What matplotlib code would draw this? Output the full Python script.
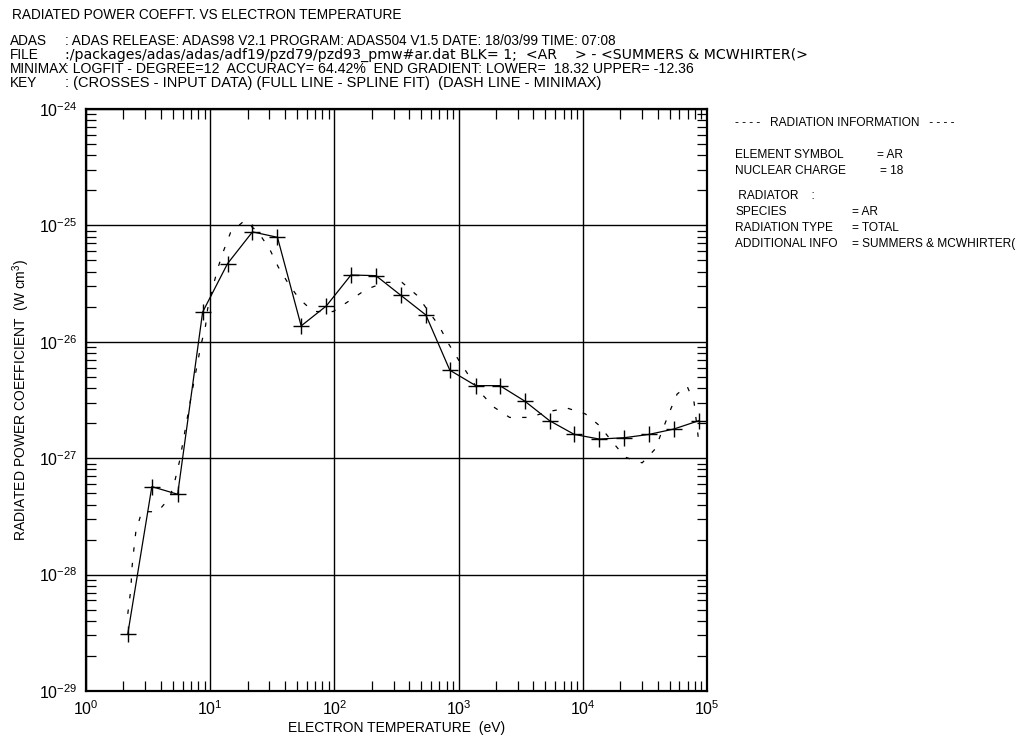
import matplotlib
matplotlib.use('Agg')
import matplotlib.pyplot as plt
from matplotlib.ticker import LogLocator, NullFormatter

plt.rcParams['font.family'] = ['Liberation Sans', 'DejaVu Sans']
plt.rcParams['mathtext.default'] = 'regular'

# input data (crosses / spline fit)
te_data = [2.17, 3.39, 5.47, 8.69, 13.8, 21.9, 34.8, 54.0, 86.0, 136, 216, 344,
           545, 850, 1375, 2150, 3400, 5400, 8550, 13600, 21600, 34000, 54000, 86000]
prb_data = [3.1e-29, 5.7e-28, 4.9e-28, 1.8e-26, 4.7e-26, 8.8e-26, 7.9e-26, 1.37e-26,
            2.03e-26, 3.75e-26, 3.7e-26, 2.5e-26, 1.7e-26, 5.7e-27, 4.2e-27, 4.2e-27,
            3.1e-27, 2.1e-27, 1.6e-27, 1.46e-27, 1.5e-27, 1.6e-27, 1.78e-27, 2.1e-27]

# minimax fit (dash line)
te_fit = [2.17, 2.30, 2.34, 2.43, 2.52, 2.81, 3.78, 4.72, 5.18, 5.68, 6.97, 8.38, 9.18,
          9.53, 10.4, 11.5, 12.8, 14.6, 18.9, 24.4, 30.0, 35.4, 42.6, 52.1, 67.6, 97.7,
          131, 180, 256, 350, 462, 566, 693, 834, 1005, 1208, 1479, 1919, 2576, 3724,
          5200, 7516, 10500, 13580, 17300, 21980, 30060, 38280, 49550, 57410, 69020,
          78700, 86300]
prb_fit = [4.6e-29, 7.6e-29, 1.12e-28, 1.66e-28, 2.34e-28, 3.47e-28, 3.47e-28, 4.57e-28,
           6.31e-28, 9.55e-28, 3.24e-27, 9.12e-27, 1.38e-26, 1.91e-26, 2.82e-26, 4.27e-26,
           6.03e-26, 8.71e-26, 1.10e-25, 8.71e-26, 6.31e-26, 4.37e-26, 3.16e-26, 2.34e-26,
           1.82e-26, 1.82e-26, 2.24e-26, 2.82e-26, 3.24e-26, 3.24e-26, 2.51e-26, 1.86e-26,
           1.38e-26, 9.55e-27, 6.92e-27, 5.13e-27, 3.72e-27, 2.75e-27, 2.24e-27, 2.24e-27,
           2.51e-27, 2.69e-27, 2.40e-27, 1.91e-27, 1.38e-27, 1.02e-27, 9.12e-28, 1.20e-27,
           2.45e-27, 3.55e-27, 4.17e-27, 3.02e-27, 1.32e-27]

header_keys = ['ADAS', 'FILE', 'MINIMAX', 'KEY']
header_vals = [
    ': ADAS RELEASE: ADAS98 V2.1 PROGRAM: ADAS504 V1.5 DATE: 18/03/99 TIME: 07:08',
    ':/packages/adas/adas/adf19/pzd79/pzd93_pmw#ar.dat BLK= 1;  <AR    > - <SUMMERS & MCWHIRTER(>',
    ': LOGFIT - DEGREE=12  ACCURACY= 64.42%  END GRADIENT: LOWER=  18.32 UPPER= -12.36',
    ': (CROSSES - INPUT DATA) (FULL LINE - SPLINE FIT)  (DASH LINE - MINIMAX)',
]
# per-line font tweaks so the line lengths follow the original plotter font
header_fonts = ['Liberation Sans', 'DejaVu Sans', 'Liberation Sans', 'Liberation Sans']
header_sizes = [9.8, 10.2, 10.2, 10.5]

info_keys = ['ELEMENT SYMBOL', 'NUCLEAR CHARGE', ' RADIATOR    :', 'SPECIES',
             'RADIATION TYPE', 'ADDITIONAL INFO']
info_vals = ['= AR', '= 18', '', '= AR', '= TOTAL', '= SUMMERS & MCWHIRTER(']

W, H = 1028, 736
fig = plt.figure(figsize=(W / 100, H / 100), dpi=100)
ax = fig.add_axes([86 / W, 1 - 691 / H, (707 - 86) / W, (691 - 109) / H])

ax.plot(te_fit, prb_fit, color='black', lw=0.9, dashes=(3.5, 9))
ax.plot(te_data, prb_data, color='black', lw=0.9, marker='+', ms=11, mew=1.0)

ax.set_xscale('log')
ax.set_yscale('log')
ax.set_xlim(1, 1e5)
ax.set_ylim(1e-29, 1e-24)
ax.grid(True, which='major', color='black', lw=1.0)
for s in ax.spines.values():
    s.set_linewidth(1.6)

ax.xaxis.set_major_locator(LogLocator(base=10, numticks=10))
ax.yaxis.set_major_locator(LogLocator(base=10, numticks=10))
ax.xaxis.set_minor_locator(LogLocator(base=10, subs=range(2, 10), numticks=20))
ax.yaxis.set_minor_locator(LogLocator(base=10, subs=range(2, 10), numticks=20))
ax.xaxis.set_minor_formatter(NullFormatter())
ax.yaxis.set_minor_formatter(NullFormatter())
ax.tick_params(which='both', direction='in', top=True, right=True, labelsize=11.5)
ax.tick_params(which='major', length=0, pad=6)
ax.tick_params(which='minor', length=7, width=0.9)

ax.set_xlabel('ELECTRON TEMPERATURE  (eV)', fontsize=10, labelpad=2)
ax.set_ylabel('RADIATED POWER COEFFICIENT  (W cm$^3$)', fontsize=10, labelpad=5)

fig.text(12 / W, 1 - 15 / H, 'RADIATED POWER COEFFT. VS ELECTRON TEMPERATURE',
         fontsize=9.8, va='center')
for i, (k, v) in enumerate(zip(header_keys, header_vals)):
    y = 1 - (41 + 14 * i) / H
    fig.text(10 / W, y, k, fontsize=9.8, va='center')
    fig.text(65 / W, y, v, fontsize=header_sizes[i], family=header_fonts[i], va='center')

fig.text(735 / W, 1 - 123 / H, '- - - -   RADIATION INFORMATION   - - - -',
         fontsize=8.6, va='center')
info_y = [155, 171, 196, 212, 228, 244]
info_x = [877, 880, 877, 852, 852, 852]
for k, v, y, x in zip(info_keys, info_vals, info_y, info_x):
    fig.text(735 / W, 1 - y / H, k, fontsize=8.6, va='center')
    if v:
        fig.text(x / W, 1 - y / H, v, fontsize=8.6, va='center')

fig.savefig('out.png', dpi=100)
